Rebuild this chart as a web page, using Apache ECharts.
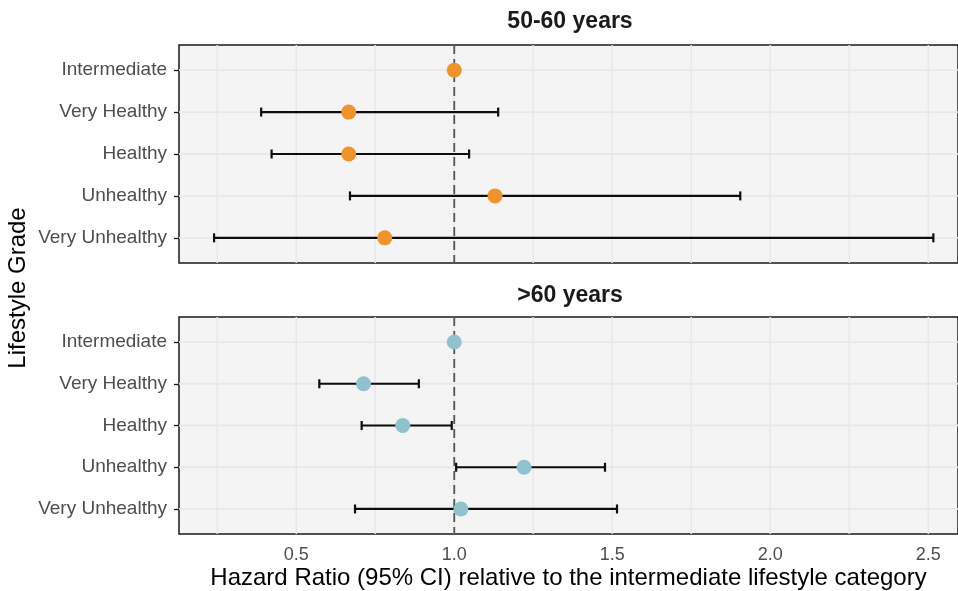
<!doctype html>
<html>
<head>
<meta charset="UTF-8">
<title>Hazard ratio by lifestyle grade</title>
<script src="https://cdn.jsdelivr.net/npm/echarts@6/dist/echarts.min.js"></script>
<style>
  html, body { margin: 0; padding: 0; background: #fff; }
  #main { width: 958px; height: 591px; }
</style>
</head>
<body>
<div id="main"></div>
<script type="text/javascript">
// categories, top to bottom
var grades = ['Intermediate', 'Very Healthy', 'Healthy', 'Unhealthy', 'Very Unhealthy'];
var panelTitles = ['50-60 years', '>60 years'];

// 50-60 years (Intermediate is the reference, no CI)
var hrMid = [1.0, 0.666, 0.666, 1.129, 0.780];
var loMid = [null, 0.389, 0.422, 0.670, 0.240];
var hiMid = [null, 1.139, 1.047, 1.905, 2.516];

// >60 years
var hrOld = [1.0, 0.713, 0.837, 1.221, 1.021];
var loOld = [null, 0.573, 0.707, 1.006, 0.686];
var hiOld = [null, 0.888, 0.992, 1.477, 1.515];

var xTicks = [0.5, 1.0, 1.5, 2.0, 2.5];
var xGrid = [0.25, 0.5, 0.75, 1.0, 1.25, 1.5, 1.75, 2.0, 2.25, 2.5];
var refLine = [1.0];

var font = 'Liberation Sans, Arial, Helvetica, sans-serif';
var colors = ['#f0932b', '#8fc1ce'];
var X_MIN = 0.129, X_MAX = 2.594;
var Y_MIN = 0.4, Y_MAX = 5.6;
var yPos = grades.map(function (g, i) { return i + 1; });

var chart = echarts.init(document.getElementById('main'));

function vline(color, width, dash) {
  return function (params, api) {
    var x = api.value(0);
    var p1 = api.coord([x, Y_MIN]);
    var p2 = api.coord([x, Y_MAX]);
    return {
      type: 'line',
      shape: { x1: p1[0], y1: p1[1], x2: p2[0], y2: p2[1] },
      style: { stroke: color, lineWidth: width, lineDash: dash || null }
    };
  };
}

function hline(params, api) {
  var y = api.value(0);
  var p1 = api.coord([X_MIN, y]);
  var p2 = api.coord([X_MAX, y]);
  return {
    type: 'line',
    shape: { x1: p1[0], y1: p1[1], x2: p2[0], y2: p2[1] },
    style: { stroke: '#e8e8e8', lineWidth: 1.8 }
  };
}

function errBar(params, api) {
  var a = api.coord([api.value(0), api.value(2)]);
  var b = api.coord([api.value(1), api.value(2)]);
  var h = 4.5;
  var st = { stroke: '#0d0d0d', lineWidth: 2.2 };
  return {
    type: 'group',
    children: [
      { type: 'line', shape: { x1: a[0], y1: a[1], x2: b[0], y2: b[1] }, style: st },
      { type: 'line', shape: { x1: a[0], y1: a[1] - h, x2: a[0], y2: a[1] + h }, style: st },
      { type: 'line', shape: { x1: b[0], y1: b[1] - h, x2: b[0], y2: b[1] + h }, style: st }
    ]
  };
}

function ciData(lo, hi) {
  var out = [];
  for (var i = 0; i < lo.length; i++) {
    if (lo[i] != null) out.push([lo[i], hi[i], yPos[i]]);
  }
  return out;
}

function pts(hr) {
  return hr.map(function (v, i) { return [v, yPos[i]]; });
}

var grids = [
  { left: 179, right: -1, top: 45, height: 218 },
  { left: 179, right: -1, top: 317, height: 219 }
];

var series = [];
var sets = [[hrMid, loMid, hiMid], [hrOld, loOld, hiOld]];
for (var k = 0; k < 2; k++) {
  series.push({
    type: 'custom', xAxisIndex: k, yAxisIndex: k, z: 1, silent: true,
    renderItem: vline('#e8e8e8', 1.5), data: xGrid.map(function (v) { return [v]; })
  });
  series.push({
    type: 'custom', xAxisIndex: k, yAxisIndex: k, z: 1, silent: true,
    renderItem: hline, data: yPos.map(function (v) { return [v]; })
  });
  series.push({
    type: 'custom', xAxisIndex: k, yAxisIndex: k, z: 2, silent: true,
    renderItem: vline('#555555', 1.8, [9, 5]), data: refLine.map(function (v) { return [v]; })
  });
  series.push({
    type: 'custom', xAxisIndex: k, yAxisIndex: k, z: 3, silent: true,
    renderItem: errBar, encode: { x: [0, 1], y: 2 },
    data: ciData(sets[k][1], sets[k][2])
  });
  series.push({
    type: 'scatter', xAxisIndex: k, yAxisIndex: k, z: 4,
    symbol: 'circle', symbolSize: 15,
    itemStyle: { color: colors[k], opacity: 1 },
    data: pts(sets[k][0])
  });
}

var option = {
  animation: false,
  backgroundColor: '#fff',
  title: [
    { text: panelTitles[0], left: 570, top: 10, textAlign: 'center', padding: 0,
      textStyle: { fontFamily: font, fontSize: 23, fontWeight: 'bold', color: '#1a1a1a' } },
    { text: panelTitles[1], left: 570, top: 284, textAlign: 'center', padding: 0,
      textStyle: { fontFamily: font, fontSize: 23, fontWeight: 'bold', color: '#1a1a1a' } }
  ],
  grid: grids.map(function (g) {
    return Object.assign({ show: true, backgroundColor: '#f4f4f4', borderColor: '#1a1a1a', borderWidth: 1.5 }, g);
  }),
  xAxis: [0, 1].map(function (k) {
    return {
      type: 'value', gridIndex: k, min: X_MIN, max: X_MAX,
      axisLine: { show: false }, axisTick: { show: false },
      splitLine: { show: false },
      axisLabel: {
        show: k === 1, customValues: xTicks, margin: 12,
        fontFamily: font, fontSize: 18, color: '#4d4d4d',
        formatter: function (v) { return v.toFixed(1); }
      },
      name: k === 1 ? 'Hazard Ratio (95% CI) relative to the intermediate lifestyle category' : '',
      nameLocation: 'middle', nameGap: 32,
      nameTextStyle: { fontFamily: font, fontSize: 24, color: '#000' }
    };
  }),
  yAxis: [0, 1].map(function (k) {
    return {
      type: 'value', gridIndex: k, min: Y_MIN, max: Y_MAX, inverse: true,
      axisLine: { show: false },
      axisTick: { show: true, customValues: yPos, length: 5, lineStyle: { color: '#1a1a1a', width: 1.3 } },
      splitLine: { show: false },
      axisLabel: {
        customValues: yPos, margin: 12,
        fontFamily: font, fontSize: 19, color: '#4d4d4d',
        formatter: function (v) { return grades[Math.round(v) - 1] || ''; }
      }
    };
  }),
  graphic: [{
    type: 'text', x: 18, y: 288, rotation: Math.PI / 2,
    style: {
      text: 'Lifestyle Grade', fontFamily: font, fontSize: 24, fill: '#000',
      textAlign: 'center', textVerticalAlign: 'middle'
    }
  }],
  series: series
};

chart.setOption(option);
</script>
</body>
</html>
